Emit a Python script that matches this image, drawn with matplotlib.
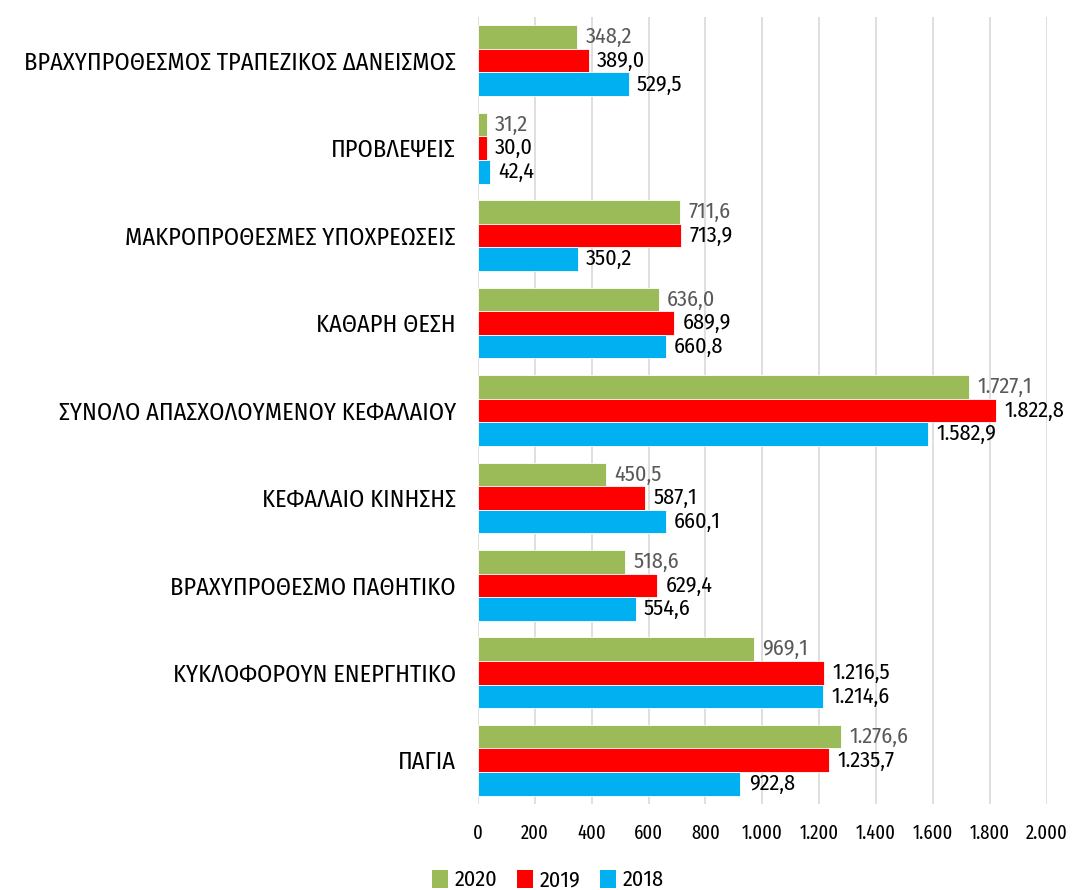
import matplotlib.pyplot as plt
import numpy as np
from matplotlib.patches import Patch
from matplotlib.ticker import FuncFormatter

plt.rcParams['font.family'] = ['Fira Sans Condensed', 'Fira Sans Extra Condensed', 'Carlito', 'DejaVu Sans']
STENO = ['Fira Sans Extra Condensed', 'Carlito', 'DejaVu Sans']

kathgories = [
    'ΒΡΑΧΥΠΡΟΘΕΣΜΟΣ ΤΡΑΠΕΖΙΚΟΣ ΔΑΝΕΙΣΜΟΣ',
    'ΠΡΟΒΛΕΨΕΙΣ',
    'ΜΑΚΡΟΠΡΟΘΕΣΜΕΣ ΥΠΟΧΡΕΩΣΕΙΣ',
    'ΚΑΘΑΡΗ ΘΕΣΗ',
    'ΣΥΝΟΛΟ ΑΠΑΣΧΟΛΟΥΜΕΝΟΥ ΚΕΦΑΛΑΙΟΥ',
    'ΚΕΦΑΛΑΙΟ ΚΙΝΗΣΗΣ',
    'ΒΡΑΧΥΠΡΟΘΕΣΜΟ ΠΑΘΗΤΙΚΟ',
    'ΚΥΚΛΟΦΟΡΟΥΝ ΕΝΕΡΓΗΤΙΚΟ',
    'ΠΑΓΙΑ',
]
etos_2020 = [348.2, 31.2, 711.6, 636.0, 1727.1, 450.5, 518.6, 969.1, 1276.6]
etos_2019 = [389.0, 30.0, 713.9, 689.9, 1822.8, 587.1, 629.4, 1216.5, 1235.7]
etos_2018 = [529.5, 42.4, 350.2, 660.8, 1582.9, 660.1, 554.6, 1214.6, 922.8]
xticks = [0, 200, 400, 600, 800, 1000, 1200, 1400, 1600, 1800, 2000]


def ellhniko(v, dek=1):
    s = f'{v:,.{dek}f}'
    return s.replace(',', 'X').replace('.', ',').replace('X', '.')


seires = [
    ('2020', etos_2020, '#9BBB59', '#595959'),
    ('2019', etos_2019, '#FF0000', 'black'),
    ('2018', etos_2018, '#00B0F0', 'black'),
]

fig = plt.figure(figsize=(10.79, 8.90), dpi=100)
ax = fig.add_axes([0.443, 0.0966, 0.527, 0.8844])

y = np.arange(len(kathgories))
h = 0.27
for i, (onoma, times, xr, xr_txt) in enumerate(seires):
    pos = y + (i - 1) * h
    ax.barh(pos, times, height=h, color=xr, edgecolor='white', linewidth=0.6,
            zorder=3)
    for p, v in zip(pos, times):
        ax.annotate(ellhniko(v), (v, p), xytext=(6, 0), textcoords='offset points',
                    va='center', ha='left', fontsize=16, color=xr_txt)

ax.set_xlim(0, 2000)
ax.set_ylim(len(kathgories) - 0.5, -0.5)
ax.set_xticks(xticks)
ax.xaxis.set_major_formatter(FuncFormatter(lambda v, _: ellhniko(v, 0)))
ax.set_yticks(y)
ax.set_yticklabels(kathgories, fontsize=17.5)
for t in ax.get_xticklabels():
    t.set_family(STENO)
ax.tick_params(axis='both', length=0)
ax.tick_params(axis='x', labelsize=14.5, pad=14)
ax.tick_params(axis='y', pad=16)
ax.grid(axis='x', color='#D9D9D9', linewidth=1.2, zorder=0)
for s in ax.spines.values():
    s.set_visible(False)

handles = [Patch(facecolor=c, label=n) for n, _, c, _ in seires]
fig.legend(handles=handles, loc='center', bbox_to_anchor=(0.508, 0.011),
           ncol=3, frameon=False, fontsize=16, handlelength=0.7,
           handleheight=0.9, handletextpad=0.3, columnspacing=0.9)

fig.savefig('out.png', dpi=100)
